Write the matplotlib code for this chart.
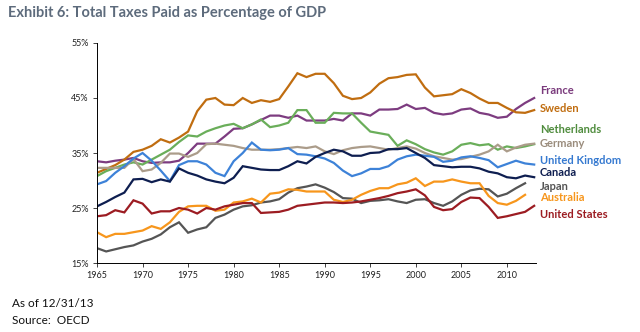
import numpy as np
import matplotlib
matplotlib.use('Agg')
import matplotlib.pyplot as plt

plt.rcParams['font.family'] = ['Lato', 'DejaVu Sans']

# data, % of GDP
years = np.arange(1965, 2014)
years_short = np.arange(1965, 2013)

france = [33.5, 33.3, 33.6, 33.8, 34.1, 33.5, 33.2, 33.3, 33.3, 33.6,
          35.0, 36.7, 36.7, 36.7, 38.0, 39.4, 39.5, 40.2, 41.0, 41.8,
          41.8, 41.4, 41.8, 40.9, 40.9, 40.9, 41.2, 40.9, 42.2, 42.2,
          41.8, 42.9, 42.9, 43.0, 43.8, 43.0, 43.2, 42.3, 42.0, 42.2,
          42.9, 43.1, 42.3, 42.0, 41.4, 41.6, 43.0, 44.1, 45.0]
sweden = [31.4, 32.1, 32.8, 33.8, 35.2, 35.6, 36.3, 37.5, 36.9, 37.8,
          38.9, 42.6, 44.7, 45.0, 43.8, 43.7, 45.0, 44.1, 44.6, 44.3,
          44.8, 47.1, 49.5, 48.8, 49.4, 49.4, 47.7, 45.4, 44.8, 45.0,
          46.0, 47.6, 48.6, 48.8, 49.2, 49.3, 46.9, 45.3, 45.5, 45.7,
          46.6, 45.9, 44.9, 44.1, 44.1, 43.2, 42.4, 42.3, 42.8]
netherlands = [30.8, 31.7, 32.3, 32.9, 33.3, 32.9, 33.8, 34.7, 35.6, 37.0,
               38.2, 38.0, 38.9, 39.5, 40.0, 40.3, 39.5, 40.2, 41.1, 39.7,
               40.0, 40.5, 42.8, 42.8, 40.5, 40.5, 42.3, 42.2, 42.2, 40.5,
               38.9, 38.6, 38.3, 36.3, 37.3, 36.6, 35.7, 35.1, 34.7, 35.3,
               36.5, 36.8, 36.4, 36.6, 35.6, 36.2, 35.9, 36.2, 36.6]
germany = [32.3, 32.3, 32.3, 32.3, 33.9, 31.7, 32.0, 33.2, 34.9, 34.9,
           34.3, 35.0, 36.6, 36.7, 36.5, 36.3, 35.9, 35.6, 35.6, 35.6,
           35.7, 35.9, 36.1, 35.9, 36.2, 35.3, 34.8, 35.5, 35.9, 36.1,
           36.2, 35.9, 35.6, 35.9, 36.2, 35.8, 35.0, 34.4, 34.1, 33.8,
           33.9, 34.3, 34.7, 35.3, 36.5, 35.3, 36.0, 36.5, 36.7]
uk = [29.3, 29.9, 31.4, 32.6, 34.0, 35.0, 33.6, 31.8, 29.9, 32.8,
      33.5, 33.5, 32.9, 31.4, 30.8, 33.5, 35.0, 36.9, 35.6, 35.5,
      35.6, 35.9, 34.8, 34.7, 34.4, 34.0, 33.2, 31.8, 30.8, 31.3,
      32.1, 32.1, 32.6, 33.8, 34.4, 34.7, 34.5, 34.3, 33.4, 33.6,
      34.2, 34.4, 34.1, 33.7, 32.4, 33.0, 33.6, 33.1, 32.9]
canada = [25.3, 26.1, 27.0, 27.8, 30.2, 30.3, 29.7, 30.2, 29.8, 32.2,
          31.4, 30.9, 30.2, 29.8, 29.5, 30.5, 32.6, 32.3, 32.0, 31.9,
          31.9, 32.6, 33.5, 33.1, 34.3, 35.0, 35.6, 35.3, 34.5, 34.5,
          35.0, 35.1, 35.7, 35.7, 35.9, 35.0, 34.1, 32.8, 32.6, 32.4,
          32.5, 32.5, 32.2, 31.6, 31.3, 30.6, 30.4, 30.9, 30.6]
japan = [17.7, 17.1, 17.5, 17.9, 18.2, 18.9, 19.4, 20.2, 21.5, 22.4,
         20.5, 21.1, 21.5, 23.2, 23.8, 24.7, 25.3, 25.5, 26.0, 26.2,
         26.6, 27.8, 28.6, 28.9, 29.3, 28.7, 27.9, 26.8, 26.7, 25.9,
         26.3, 26.4, 26.6, 26.2, 25.9, 26.5, 26.6, 25.9, 25.4, 26.2,
         27.4, 28.2, 28.5, 28.4, 27.1, 27.6, 28.6, 29.5]
australia = [20.6, 19.7, 20.3, 20.3, 20.6, 20.9, 21.7, 21.2, 22.4, 24.3,
             25.3, 25.4, 25.4, 24.5, 24.7, 26.0, 26.2, 26.7, 26.0, 27.6,
             27.8, 28.4, 28.3, 28.0, 28.0, 28.0, 26.5, 26.1, 26.5, 27.4,
             28.1, 28.6, 28.6, 29.3, 29.6, 30.4, 29.0, 29.8, 29.8, 30.2,
             29.8, 29.5, 29.5, 27.2, 25.9, 25.6, 26.3, 27.4]
usa = [23.5, 23.7, 24.6, 24.2, 26.4, 25.8, 24.0, 24.4, 24.4, 25.0,
       24.7, 24.0, 25.0, 24.7, 25.3, 25.6, 25.9, 25.9, 24.1, 24.2,
       24.3, 24.7, 25.4, 25.6, 25.8, 26.0, 26.0, 25.9, 26.0, 26.2,
       26.5, 26.8, 27.2, 27.7, 28.0, 28.4, 27.3, 25.2, 24.6, 24.8,
       26.1, 26.9, 26.8, 25.2, 23.2, 23.5, 23.9, 24.3, 25.4]

# name, x, y, line colour, label colour, label y
series = [
    ('France', years, france, '#7d3c80', '#7a3a7c', 46.3),
    ('Sweden', years, sweden, '#c06d10', '#c06d10', 43.0),
    ('Netherlands', years, netherlands, '#6aae5a', '#4f8c3d', 39.2),
    ('Germany', years, germany, '#ab9c8a', '#9a8c7c', 36.8),
    ('United Kingdom', years, uk, '#3d82d8', '#3579d0', 33.7),
    ('Canada', years, canada, '#0e1e50', '#0e1e50', 31.4),
    ('Japan', years_short, japan, '#555555', '#555555', 29.0),
    ('Australia', years_short, australia, '#f7961c', '#f7961c', 27.0),
    ('United States', years, usa, '#9c1c22', '#9c1c22', 23.9),
]

fig = plt.figure(figsize=(6.4, 3.32), dpi=100)
ax = fig.add_axes([0.1516, 0.2078, 0.6859, 0.6627])

for name, x, y, c, lc, ly in series:
    ax.plot(x, y, color=c, lw=1.6, solid_joinstyle='miter')
    ax.text(2013.6, ly, name, color=lc, fontsize=8, fontweight='bold',
            va='center', ha='left', clip_on=False)

ax.set_xlim(1965, 2013.2)
ax.set_ylim(15, 55)
ax.set_xticks(np.arange(1965, 2011, 5))
ax.set_yticks([15, 25, 35, 45, 55])
ax.set_yticklabels(['15%', '25%', '35%', '45%', '55%'])
ax.tick_params(labelsize=6.5, colors='#222222', length=3, width=0.6, pad=3)
for s in ['top', 'right']:
    ax.spines[s].set_visible(False)
for s in ['left', 'bottom']:
    ax.spines[s].set_linewidth(0.7)

fig.text(0.012, 0.962, 'Exhibit 6: Total Taxes Paid as Percentage of GDP',
         fontsize=10.5, fontweight='bold', color='#5d6b7c', va='center')
fig.text(0.019, 0.085, 'As of 12/31/13', fontsize=8.5, color='#111111', va='center')
fig.text(0.019, 0.035, 'Source:  OECD', fontsize=8.5, color='#111111', va='center')

fig.savefig('out.png', dpi=100)
